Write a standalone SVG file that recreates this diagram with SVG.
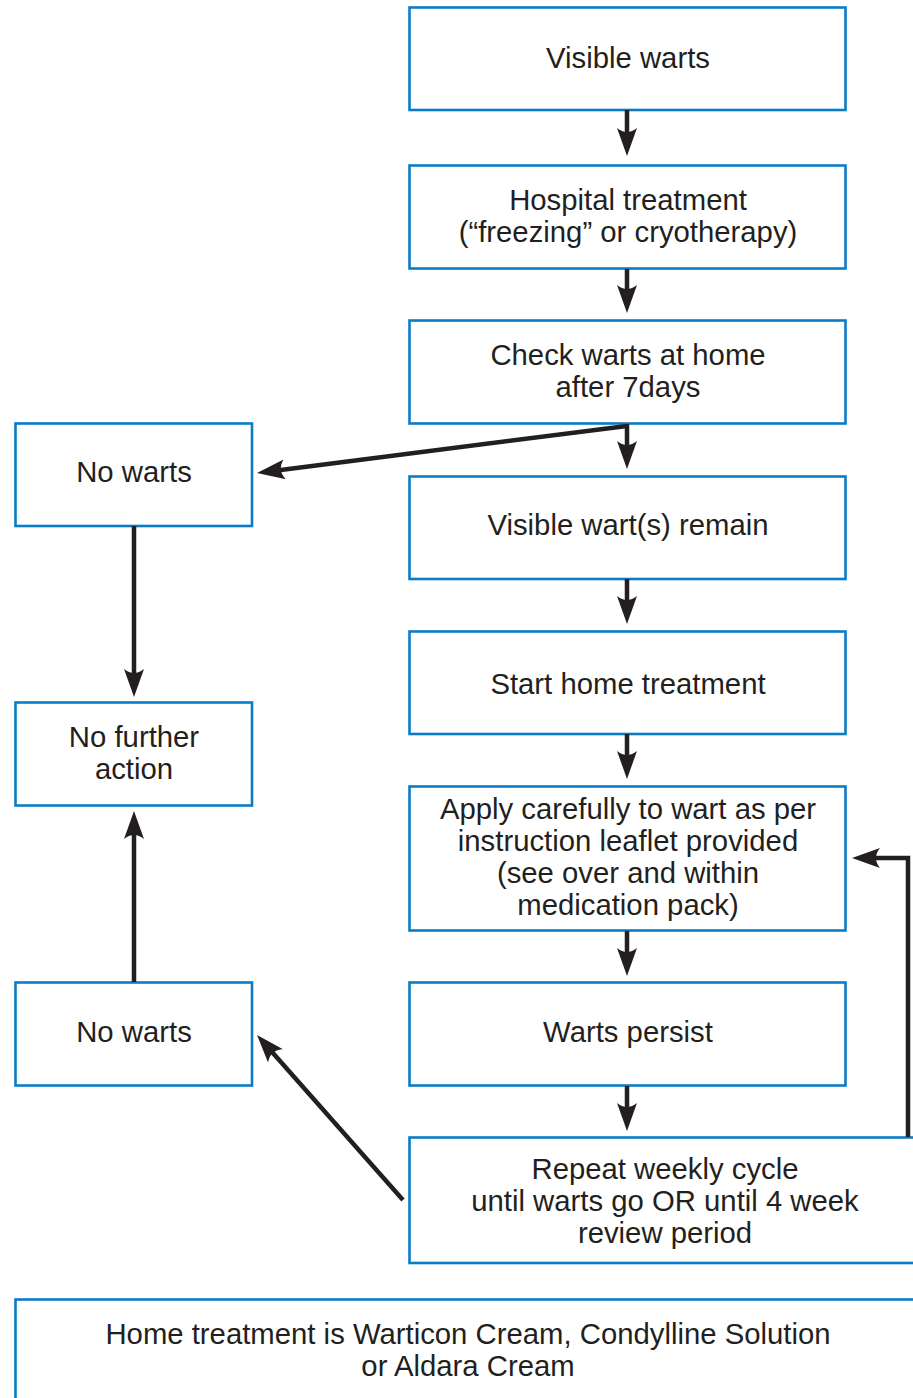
<svg xmlns="http://www.w3.org/2000/svg" width="913" height="1398" viewBox="0 0 913 1398">
<style>
.box{fill:#fff;stroke:#0a7cc6;stroke-width:2.6}
.t{font-family:"Liberation Sans",Arial,sans-serif;font-size:29.3px;fill:#231f20;text-anchor:middle}
.c{fill:none;stroke:#231f20;stroke-width:4.5;stroke-linejoin:miter}
</style>
<defs>
<marker id="ah" markerUnits="userSpaceOnUse" viewBox="0 0 28 20" markerWidth="28" markerHeight="20" refX="6" refY="10" orient="auto">
<path d="M0,0 Q8,10 0,20 L28,10 Z" fill="#231f20"/>
</marker>
</defs>
<rect width="913" height="1398" fill="#fff"/>
<g id="n1"><rect class="box" x="409.5" y="7.5" width="436" height="102.5"/><text class="t" x="628" y="68">Visible warts</text></g>
<g id="n2"><rect class="box" x="409.5" y="165.5" width="436" height="103"/><text class="t" x="628" y="210">Hospital treatment</text><text class="t" x="628" y="242">(“freezing” or cryotherapy)</text></g>
<g id="n3"><rect class="box" x="409.5" y="320.5" width="436" height="103"/><text class="t" x="628" y="365">Check warts at home</text><text class="t" x="628" y="397">after 7days</text></g>
<g id="n4"><rect class="box" x="409.5" y="476.5" width="436" height="102.5"/><text class="t" x="628" y="535">Visible wart(s) remain</text></g>
<g id="n5"><rect class="box" x="409.5" y="631.5" width="436" height="102.5"/><text class="t" x="628" y="694">Start home treatment</text></g>
<g id="n6"><rect class="box" x="409.5" y="786.5" width="436" height="144"/><text class="t" x="628" y="819">Apply carefully to wart as per</text><text class="t" x="628" y="851">instruction leaflet provided</text><text class="t" x="628" y="883">(see over and within</text><text class="t" x="628" y="915">medication pack)</text></g>
<g id="n7"><rect class="box" x="409.5" y="982.5" width="436" height="103"/><text class="t" x="628" y="1042">Warts persist</text></g>
<g id="n8"><rect class="box" x="409.5" y="1137.5" width="512" height="125.5"/><text class="t" x="665" y="1179">Repeat weekly cycle</text><text class="t" x="665" y="1211">until warts go OR until 4 week</text><text class="t" x="665" y="1243">review period</text></g>
<g id="n9"><rect class="box" x="15.5" y="423.5" width="236.5" height="102.5"/><text class="t" x="134" y="482">No warts</text></g>
<g id="n10"><rect class="box" x="15.5" y="702.5" width="236.5" height="103"/><text class="t" x="134" y="747">No further</text><text class="t" x="134" y="779">action</text></g>
<g id="n11"><rect class="box" x="15.5" y="982.5" width="236.5" height="103"/><text class="t" x="134" y="1042">No warts</text></g>
<g id="n12"><rect class="box" x="15.5" y="1299.5" width="906" height="120"/><text class="t" x="468" y="1344">Home treatment is Warticon Cream, Condylline Solution</text><text class="t" x="468" y="1376">or Aldara Cream</text></g>
<g id="connectors">
<line class="c" x1="627" y1="110" x2="627" y2="134" marker-end="url(#ah)"/>
<line class="c" x1="627" y1="269" x2="627" y2="291" marker-end="url(#ah)"/>
<line class="c" x1="627" y1="424" x2="627" y2="447" marker-end="url(#ah)"/>
<line class="c" x1="627" y1="426" x2="278.8" y2="470.2" marker-end="url(#ah)"/>
<line class="c" x1="627" y1="579" x2="627" y2="602" marker-end="url(#ah)"/>
<line class="c" x1="627" y1="734" x2="627" y2="757" marker-end="url(#ah)"/>
<line class="c" x1="627" y1="931" x2="627" y2="954" marker-end="url(#ah)"/>
<line class="c" x1="627" y1="1086" x2="627" y2="1109" marker-end="url(#ah)"/>
<line class="c" x1="134" y1="526" x2="134" y2="675" marker-end="url(#ah)"/>
<line class="c" x1="134" y1="982" x2="134" y2="833" marker-end="url(#ah)"/>
<line class="c" x1="403" y1="1200" x2="271.6" y2="1051.5" marker-end="url(#ah)"/>
<polyline class="c" points="908,1137 908,858 874,858" marker-end="url(#ah)"/>
</g>
</svg>
